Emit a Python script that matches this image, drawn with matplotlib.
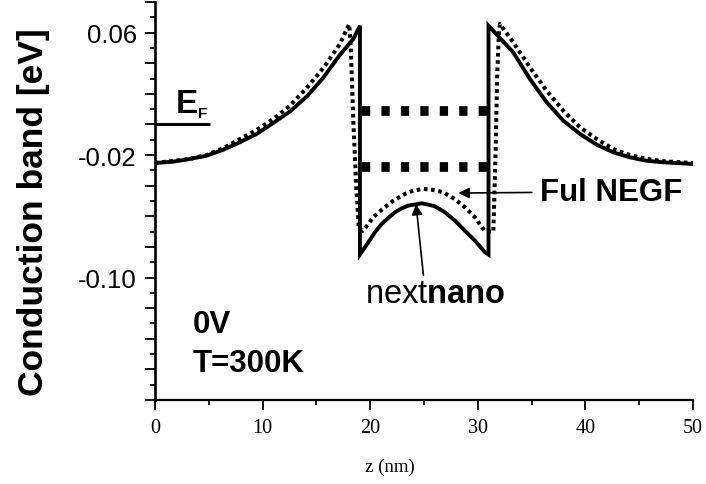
import matplotlib
matplotlib.use("Agg")
import matplotlib.pyplot as plt
from matplotlib.ticker import MultipleLocator, FuncFormatter

plt.rcParams['font.family'] = ['Liberation Sans', 'DejaVu Sans']
plt.rcParams['mathtext.fontset'] = 'custom'
plt.rcParams['mathtext.rm'] = 'Liberation Sans'
plt.rcParams['mathtext.bf'] = 'Liberation Sans:bold'

# nextnano conduction band profile (solid)
z_nextnano = [0.0, 1.7, 3.25, 4.8, 6.35, 7.9, 9.45, 11.0, 12.55, 14.1, 15.64, 17.19, 18.43, 19.05,
              19.05, 19.83, 20.45, 21.07, 21.68, 22.3, 22.93, 23.54, 24.47, 24.8, 25.09, 26.0,
              26.95, 27.88, 28.8, 29.74, 30.67, 31.0,
              31.0, 33.3, 34.85, 36.4, 37.95, 39.5, 41.05, 42.6, 44.1, 45.7, 47.2, 50.0]
E_nextnano = [-0.0252, -0.0243, -0.0225, -0.0204, -0.0165, -0.0116, -0.0062, 0.0010, 0.0085, 0.0182,
              0.0305, 0.0455, 0.0558, 0.0645,
              -0.0850, -0.0770, -0.0704, -0.0650, -0.0611, -0.0574, -0.0548, -0.0530, -0.0519, -0.0515,
              -0.0519, -0.0534, -0.0574, -0.0628, -0.0694, -0.0759, -0.0835, -0.0850,
              0.0645, 0.0471, 0.0297, 0.0145, 0.0025, -0.0062, -0.0132, -0.0182, -0.0214, -0.0237,
              -0.0247, -0.0258]

# full NEGF conduction band profile (dotted)
z_negf = [0.0, 3.25, 4.8, 6.35, 7.9, 9.45, 11.0, 12.55, 14.1, 15.64, 17.19, 18.05,
          18.2, 18.45, 18.7, 18.95, 19.3, 19.67, 20.29, 21.07, 22.15, 23.23, 24.0, 24.94,
          25.87, 26.8, 27.88, 28.8, 29.74, 30.5, 30.75, 31.45, 31.65, 31.8, 31.95, 32.06,
          33.3, 34.85, 36.4, 37.95, 39.5, 41.05, 42.6, 44.1, 45.7, 47.2, 50.0]
E_negf = [-0.0252, -0.0225, -0.0200, -0.0154, -0.0095, -0.0036, 0.0036, 0.0123, 0.0238, 0.0368,
          0.0526, 0.0655,
          0.0500, 0.0000, -0.0400, -0.0680, -0.0695, -0.0665, -0.0606, -0.0557, -0.0498, -0.0454,
          -0.0432, -0.0421, -0.0428, -0.0443, -0.0487, -0.0541, -0.0606, -0.0683, -0.0700,
          -0.0700, -0.0200, 0.0300, 0.0580, 0.0656,
          0.0537, 0.0373, 0.0221, 0.0090, -0.0018, -0.0095, -0.0160, -0.0199, -0.0225, -0.0240,
          -0.0252]

# quantized levels inside the well
levels = [0.0088, -0.0278]
level_z = [19.2, 30.9]

# Fermi level
E_F = 0.0
EF_z = [0.0, 5.1]

ytick_labelled = [0.06, -0.02, -0.10]

fig = plt.figure(figsize=(7.06, 4.85), dpi=100)
ax = fig.add_axes([0.2195, 0.1732, 0.762, 0.8206])

ax.plot(z_nextnano, E_nextnano, color="k", lw=2.8, solid_joinstyle="miter")
ax.plot(z_negf, E_negf, color="k", lw=2.9, linestyle=(0, (0.9, 0.9)), dash_capstyle="butt")
for lv in levels :
    ax.plot(level_z, [lv, lv], color="k", lw=7, linestyle=(0, (0.85, 1.15)), dash_capstyle="butt")
ax.plot(EF_z, [E_F, E_F], color="k", lw=2.2, solid_capstyle="butt")

ax.set_xlim(0, 50)
ax.set_ylim(-0.18, 0.08)
for s in ["top", "right"] :
    ax.spines[s].set_visible(False)
ax.spines["left"].set_linewidth(1.9)
ax.spines["bottom"].set_linewidth(1.6)

ax.xaxis.set_major_locator(MultipleLocator(10))
ax.xaxis.set_minor_locator(MultipleLocator(5))
ax.yaxis.set_major_locator(MultipleLocator(0.02))
ax.yaxis.set_minor_locator(MultipleLocator(0.01))

def ylab(v, pos) :
    for t in ytick_labelled :
        if abs(v - t) < 1e-6 :
            return "%.2f" % t
    return ""
ax.yaxis.set_major_formatter(FuncFormatter(ylab))

ax.tick_params(which="both", direction="out", width=1.3)
ax.tick_params(which="major", length=7)
ax.tick_params(which="minor", length=3.5)
ax.tick_params(axis="y", labelsize=18.5, pad=6)
ax.tick_params(axis="x", pad=6)
for lab in ax.get_xticklabels() :
    lab.set_fontfamily("Liberation Serif")
    lab.set_fontsize(14.5)

fig.text(0.048, 0.563, "Conduction band [eV]", rotation=90, ha="center", va="center",
         fontsize=25.5, fontweight="bold")
fig.text(0.552, 0.037, "z (nm)", ha="center", va="center", fontsize=13.5,
         family="Liberation Serif")

ax.text(1.95, 0.0082, "E", fontsize=24, fontweight="bold", ha="left", va="baseline")
ax.text(4.0, 0.0049, "F", fontsize=11, fontweight="bold", ha="left", va="baseline")

ax.text(3.5, -0.1355, "0V", fontsize=22.5, fontweight="bold", va="baseline")
ax.text(3.5, -0.161, "T=300K", fontsize=22.5, fontweight="bold", va="baseline")

ax.annotate("Ful NEGF", xy=(28.2, -0.0448), xytext=(35.8, -0.044), fontsize=22.5,
            fontweight="bold", va="center", ha="left",
            arrowprops=dict(arrowstyle="-|>", color="k", lw=1.2, mutation_scale=16,
                            shrinkA=4, shrinkB=0))
ax.annotate(r"next$\mathbf{nano}$", xy=(24.26, -0.0519), xytext=(19.5, -0.116), fontsize=23.5,
            va="baseline", ha="left",
            arrowprops=dict(arrowstyle="-|>", color="k", lw=1.2, mutation_scale=16,
                            shrinkA=0, shrinkB=0, relpos=(0.42, 1.0)))

fig.savefig("out.png", dpi=100)
